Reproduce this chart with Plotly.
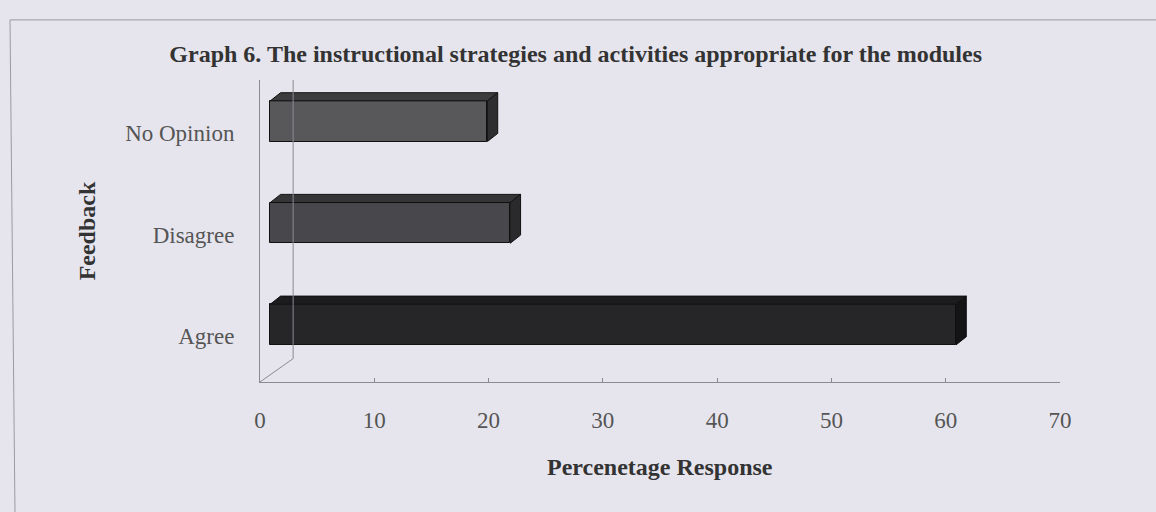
import plotly.graph_objects as go

# ---- data ----
categories = ["Agree", "Disagree", "No Opinion"]
values = [60, 21, 19]
x_ticks = [0, 10, 20, 30, 40, 50, 60, 70]

# ---- style ----
front_colors = ["#262628", "#48484c", "#58585b"]
top_colors = ["#1c1c1e", "#353538", "#3c3c3f"]
side_colors = ["#141416", "#2a2a2c", "#2e2e30"]
BG = "#e6e5ee"
BX, BY = 0.9, 0.115      # bar shift due to mid-depth placement
DX, DY = 0.9, 0.08       # bar extrusion
W = 0.4                  # bar front-face thickness
WALL_DX, WALL_DY = 2.9, 0.23

fig = go.Figure()
ypos = list(range(len(categories)))

for i, (c, v) in enumerate(zip(categories, values)):
    yc = ypos[i] + BY
    y0, y1 = yc - W / 2, yc + W / 2
    x0, x1 = BX, BX + v
    # top face
    fig.add_trace(go.Scatter(
        x=[x0, x0 + DX, x1 + DX, x1, x0],
        y=[y1, y1 + DY, y1 + DY, y1, y1],
        fill="toself", fillcolor=top_colors[i], mode="lines",
        line=dict(color="#111", width=1), hoverinfo="skip", showlegend=False))
    # side face
    fig.add_trace(go.Scatter(
        x=[x1, x1 + DX, x1 + DX, x1, x1],
        y=[y0, y0 + DY, y1 + DY, y1, y0],
        fill="toself", fillcolor=side_colors[i], mode="lines",
        line=dict(color="#111", width=1), hoverinfo="skip", showlegend=False))
    # front face
    fig.add_trace(go.Bar(
        y=[ypos[i]], x=[v], base=[BX], orientation="h", width=W,
        offset=-W / 2 + BY, marker=dict(color=front_colors[i], line=dict(color="#111", width=1)),
        name=c, showlegend=False))

# 3D wall / floor outline lines
ymin, ymax = -0.45, 2.52
shapes = [
    dict(type="line", xref="x", yref="y", x0=0, y0=ymin, x1=WALL_DX, y1=ymin + WALL_DY,
         line=dict(color="#8a8a92", width=1)),
    dict(type="line", xref="x", yref="y", x0=WALL_DX, y0=ymin + WALL_DY, x1=WALL_DX, y1=ymax + WALL_DY,
         line=dict(color="#8a8a92", width=1)),
    dict(type="line", xref="x", yref="y", x0=0, y0=ymax, x1=WALL_DX, y1=ymax + WALL_DY,
         line=dict(color="#8a8a92", width=1)),
    dict(type="line", xref="paper", yref="paper", x0=-0.3125, y0=1.199, x1=1.2, y1=1.199,
         line=dict(color="#9a9aa2", width=1)),
    dict(type="line", xref="paper", yref="paper", x0=-0.3125, y0=1.199, x1=-0.306, y1=-0.5,
         line=dict(color="#9a9aa2", width=1)),
]

fig.update_layout(
    width=1156, height=512,
    margin=dict(l=260, r=96, t=80, b=130, autoexpand=False),
    paper_bgcolor=BG, plot_bgcolor=BG,
    font=dict(family="Liberation Serif", color="#555"),
    title=dict(text="<b>Graph 6. The instructional strategies and activities appropriate for the modules</b>",
               x=0.498, xanchor="center", y=0.896, yanchor="middle",
               font=dict(family="Liberation Serif", size=24, color="#333")),
    shapes=shapes,
    bargap=0,
    annotations=[dict(text="<b>Percenetage Response</b>", xref="paper", yref="paper",
                      x=0.5, y=-0.281, xanchor="center", yanchor="middle", showarrow=False,
                      font=dict(family="Liberation Serif", size=24, color="#333"))],
)
fig.update_xaxes(range=[0, 70], tickvals=x_ticks, ticks="inside", ticklen=4, tickcolor="#8a8a92",
                 showline=True, linecolor="#8a8a92", linewidth=1, showgrid=False, zeroline=False,
                 tickfont=dict(size=23, color="#555"), ticklabelstandoff=17, automargin=False)
fig.update_yaxes(range=[ymin, ymax], tickvals=ypos, ticktext=categories,
                 ticks="", showline=True, linecolor="#8a8a92", linewidth=1, showgrid=False,
                 zeroline=False, tickfont=dict(size=23, color="#555"), ticklabelstandoff=20,
                 automargin=False,
                 title=dict(text="<b>Feedback</b>", standoff=22, font=dict(size=24, color="#333")))

fig.write_html("out.html", config={"displayModeBar": False},
               post_script="document.body.style.margin='0';document.body.style.background='%s';" % BG)
